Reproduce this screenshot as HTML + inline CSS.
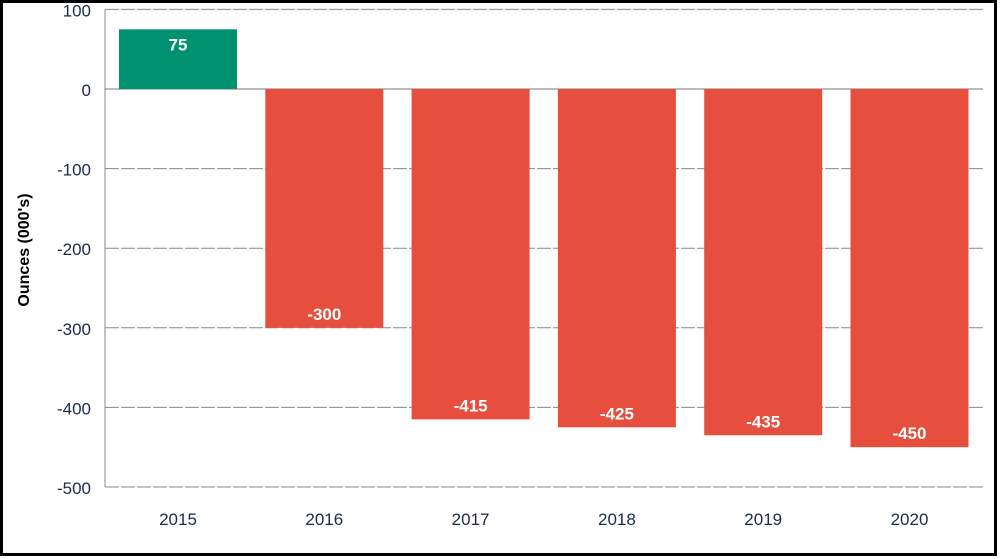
<!DOCTYPE html>
<html><head><meta charset="utf-8"><style>
html,body{margin:0;padding:0;background:#fff}
body{width:1000px;height:559px;overflow:hidden}
svg{display:block;font-family:"Liberation Sans",sans-serif}
</style></head><body>
<svg id="chart" width="1000" height="559">
<rect x="1.5" y="1.5" width="994" height="553" fill="#fff" stroke="#000" stroke-width="3"/>
<g id="grid"></g><g id="bars"></g><g id="axes"></g>
<text x="0" y="0" transform="translate(29,250) rotate(-90)" text-anchor="middle" font-size="16" font-weight="bold" fill="#000">Ounces (000's)</text>
</svg>
<script>
const categories=["2015","2016","2017","2018","2019","2020"];
const values=[75,-300,-415,-425,-435,-450];
const yTicks=[100,0,-100,-200,-300,-400,-500];
const NS="http://www.w3.org/2000/svg";
const left=105,right=983,zeroY=89,k=0.796;
const y=v=>zeroY-v*k;
const band=(right-left+0)/categories.length;
const x=i=>left+i*146.3+14;
const bw=118;
function mk(t,a,p){const e=document.createElementNS(NS,t);for(const q in a)e.setAttribute(q,a[q]);p.appendChild(e);return e;}
const grid=document.getElementById('grid'),bars=document.getElementById('bars'),axes=document.getElementById('axes');
yTicks.forEach(t=>{
  const l=mk('line',{x1:left,x2:right,y1:y(t),y2:y(t),stroke:t===0?'#777':'#888','stroke-width':1,'stroke-dasharray':t===0?'none':'14,2'},grid);
  
  
  const tx=mk('text',{x:91,y:y(t)+7,'text-anchor':'end','font-size':17,fill:'#1a2a4a'},axes);
  tx.textContent=t;
  
  
});
const ax=mk('line',{x1:left,x2:left,y1:y(100),y2:y(-500),stroke:'#888','stroke-width':1},axes);


categories.forEach((c,i)=>{
  const v=values[i];
  const top=Math.min(y(v),y(0)),h=Math.abs(y(v)-y(0));
  const r=mk('rect',{x:x(i),y:top,width:bw,height:h,fill:v>=0?'#009270':'#e64f3d'},bars);
  
  
  const lt=mk('text',{x:x(i)+bw/2,y:v>=0?y(v)+21:y(v)-8,'text-anchor':'middle','font-size':17,'font-weight':'bold',fill:'#fff'},bars);
  lt.textContent=v;
  
  
  const ct=mk('text',{x:x(i)+bw/2,y:525,'text-anchor':'middle','font-size':17,fill:'#1a2a4a'},axes);
  ct.textContent=c;
  
  
});
</script>
</body></html>
